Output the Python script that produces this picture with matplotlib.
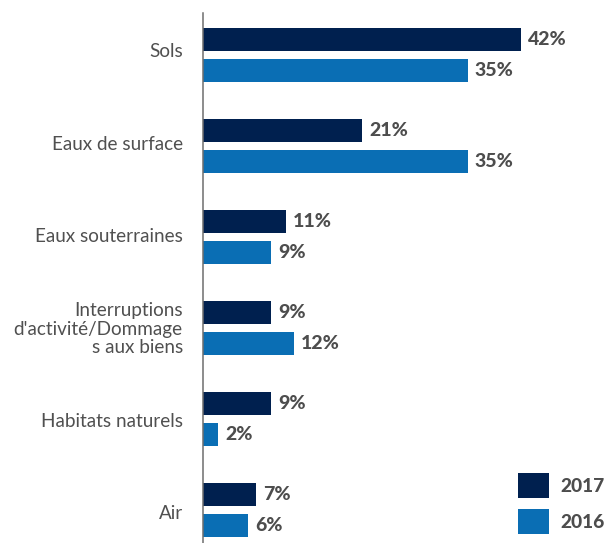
import numpy as np
import matplotlib.pyplot as plt
from matplotlib.transforms import offset_copy

categories = [
    "Sols",
    "Eaux de surface",
    "Eaux souterraines",
    "Interruptions\nd'activité/Dommage\ns aux biens",
    "Habitats naturels",
    "Air",
]
values_2017 = [42, 21, 11, 9, 9, 7]
values_2016 = [35, 35, 9, 12, 2, 6]
series_labels = ["2017", "2016"]

navy = "#00204f"
blue = "#0a6eb4"
label_grey = "#505050"
value_grey = "#4d4d4d"

plt.rcParams["font.family"] = ["Lato", "DejaVu Sans"]

fig = plt.figure(figsize=(6.13, 5.43), dpi=100)
ax = fig.add_axes([203 / 613, 0, 410 / 613, 530 / 543])

y = np.arange(len(categories))
offset = 0.170
height = 0.253

bars17 = ax.barh(y - offset, values_2017, height=height, color=navy, label=series_labels[0])
bars16 = ax.barh(y + offset, values_2016, height=height, color=blue, label=series_labels[1])

ax.set_xlim(0, 54.16)
ax.set_ylim(5.363, -0.4615)

# value labels just past the end of each bar
for bars, vals in ((bars17, values_2017), (bars16, values_2016)):
    for b, v in zip(bars, vals):
        ax.annotate(f"{v}%", xy=(v, b.get_y() + b.get_height() / 2),
                    xytext=(5, 0), textcoords="offset points",
                    ha="left", va="center", fontsize=14, fontweight="black",
                    color=value_grey)

# category labels, right aligned left of the axis line
label_tr = offset_copy(ax.get_yaxis_transform(), fig=fig, x=-14.5, units="points")
for i, name in enumerate(categories):
    ax.text(0, -0.033 + i * 1.0154, name, transform=label_tr,
            ha="right", va="center", multialignment="right",
            fontsize=13.6, color=label_grey, linespacing=1.1)

for side in ("top", "right", "bottom"):
    ax.spines[side].set_visible(False)
ax.spines["left"].set_color("#6e6e6e")
ax.spines["left"].set_linewidth(1.1)
ax.set_xticks([])
ax.set_yticks([])

fs = 13.8
box = 31 / (fs * 100 / 72)
ax.legend(loc="lower left", bbox_to_anchor=(518 / 613, 9 / 543),
          bbox_transform=fig.transFigure, frameon=False,
          handlelength=box, handleheight=box, handletextpad=0.6,
          labelspacing=0.6, borderpad=0, borderaxespad=0,
          prop={"size": fs, "weight": "black"}, labelcolor=value_grey)

fig.savefig("out.png", dpi=100)
